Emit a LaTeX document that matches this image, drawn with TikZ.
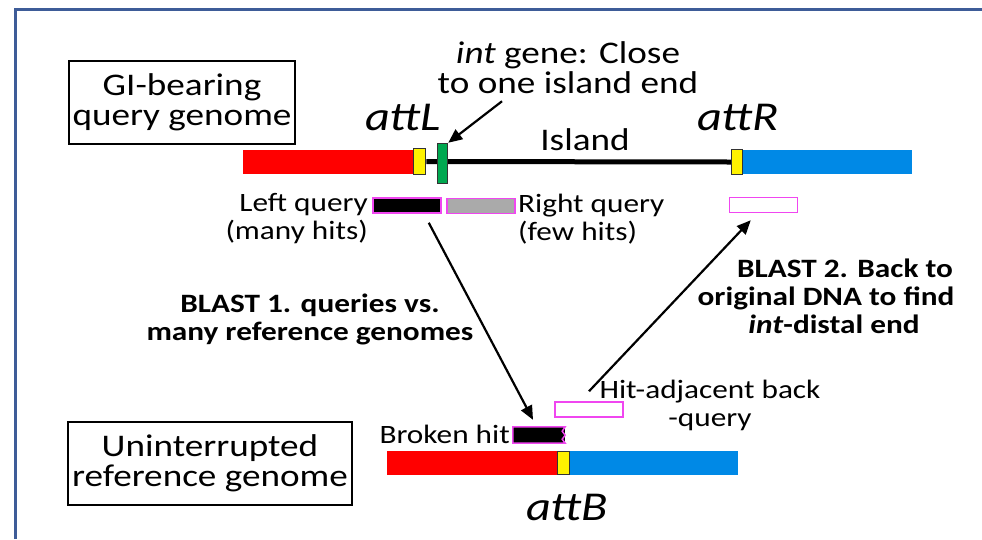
\documentclass[tikz,border=0pt]{standalone}
\usepackage{fontspec}
\setmainfont{Carlito}[FakeStretch=1.18]
\usetikzlibrary{arrows.meta}

\definecolor{frameblue}{RGB}{62,92,152}
\definecolor{qpink}{RGB}{240,70,240}
\definecolor{barblue}{RGB}{0,137,230}
\definecolor{intgreen}{RGB}{0,168,80}
\definecolor{qgray}{RGB}{170,170,170}

\newcommand{\lbltxt}{\fontsize{31.5}{30}\selectfont}
\newcommand{\smtxt}{\fontsize{26.5}{28}\selectfont}
\newcommand{\atttxt}{\fontsize{41}{42}\selectfont\itshape}

\begin{document}
\begin{tikzpicture}[x=1pt, y=-1pt,
  bar/.style={rectangle, inner sep=0pt, minimum height=24pt, draw=none},
  site/.style={rectangle, inner sep=0pt, fill=yellow, draw=black!80, line width=1.5pt},
  qry/.style={rectangle, inner sep=0pt, minimum width=68pt, minimum height=15pt, draw=qpink, line width=1.5pt},
  genome/.style={rectangle, draw=black, line width=2pt, minimum height=83pt, align=center, font=\lbltxt, inner sep=0pt},
  lbl/.style={inner sep=0pt, font=\smtxt},
  att/.style={inner sep=0pt, font=\atttxt, anchor=base},
  arr/.style={-{Triangle[length=14pt, width=12pt]}, line width=2.2pt}
]
\useasboundingbox (0,0) rectangle (982,539);
\draw[frameblue, line width=3pt] (15,539) -- (15,9) -- (982,9);

% query genome with the island
\node[genome, minimum width=226pt] (qg) at (182,102) {GI-bearing\\query genome};
\node[bar, fill=red, minimum width=170pt, anchor=west] (redT) at (243,162) {};
\node[bar, fill=barblue, minimum width=169pt, anchor=west] (blueT) at (743,162) {};
\node[site, minimum width=12pt, minimum height=26pt] (attL) at (419.5,161.5) {};
\node[site, minimum width=11pt, minimum height=25pt] (attR) at (737,162) {};
\draw[line width=5pt] (attL.east) -- (attR.west);
\node[rectangle, inner sep=0pt, fill=intgreen, draw=black!80, line width=1.5pt,
  minimum width=10pt, minimum height=40pt] (int) at (442.5,163.5) {};

\node[att] (attLt) at (403,130) {attL};
\node[att] (attRt) at (738,130) {attR};
\node[inner sep=0pt, font=\lbltxt, anchor=base] (isl) at (585,150) {Island};
\node[inner sep=0pt, font=\lbltxt, align=center] (intlbl) at (568,68) {\textit{int} gene: Close\\to one island end};
\draw[arr] ([xshift=-66pt,yshift=-7pt]intlbl.south) -- (int.north east);

% queries
\node[qry, fill=black] (lq) at (407,205.5) {};
\node[qry, fill=qgray] (gq) at (481,206) {};
\node[qry, fill=white] (rq) at (763.5,205) {};
\node[lbl, align=right, anchor=east] (lqt) at (368,219) {Left query\\(many hits)};
\node[lbl, align=left, anchor=west] (gqt) at (518,219) {Right query\\(few hits)};

% BLAST steps
\node[lbl, font=\smtxt\bfseries, align=center] (b1) at (310,319) {BLAST 1. queries vs.\\many reference genomes};
\node[lbl, font=\smtxt\bfseries, align=center] (b2) at (826,296)
  {\hspace*{38pt}BLAST 2. Back to\\original DNA to find\\\hspace*{16pt}\textit{int}-distal end};

% reference genome
\node[genome, minimum width=284pt] (rg) at (210,463) {Uninterrupted\\reference genome};
\node[bar, fill=red, minimum width=170pt, anchor=west] (redB) at (387,463) {};
\node[bar, fill=barblue, minimum width=168pt, anchor=west] (blueB) at (570,463) {};
\node[site, minimum width=12pt, minimum height=23pt] (attBs) at (563.5,463) {};
\node[att] (attBt) at (567,520) {attB};

\node[rectangle, inner sep=0pt, fill=black, minimum width=52pt, minimum height=16pt] (bh) at (539,435) {};
\draw[qpink, line width=1.5pt] (bh.north east) -- (bh.north west) -- (bh.south west) -- (bh.south east)
  -- ++(-3,-4) -- ++(3,-4) -- ++(-3,-4) -- cycle;
\node[lbl, anchor=base east] (bht) at (510,443) {Broken hit};
\node[qry, fill=white] (bq) at (589,409.5) {};
\node[lbl, align=center] (bqt) at (710,405) {Hit-adjacent back\\-query};

\draw[arr] ([xshift=-13pt,yshift=-9pt]lq.south east) -- ([xshift=-6pt,yshift=7pt]bh.north);
\draw[arr] ([yshift=10pt]bq.north) -- ([xshift=22pt,yshift=-7pt]rq.south west);
\end{tikzpicture}
\end{document}
